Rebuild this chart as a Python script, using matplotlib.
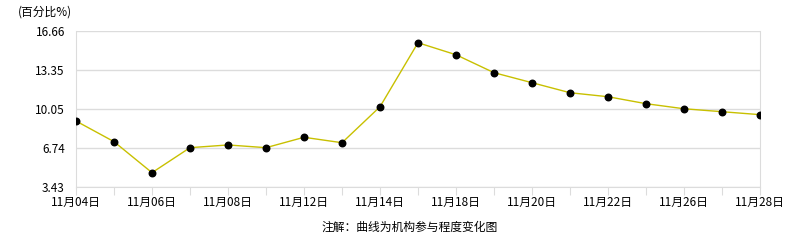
import matplotlib
matplotlib.use('Agg')
import matplotlib.pyplot as plt

plt.rcParams['font.family'] = ['Noto Sans CJK SC', 'DejaVu Sans']

dates = ['11月04日', '11月05日', '11月06日', '11月07日', '11月08日', '11月11日',
         '11月12日', '11月13日', '11月14日', '11月15日', '11月18日', '11月19日',
         '11月20日', '11月21日', '11月22日', '11月25日', '11月26日', '11月27日',
         '11月28日']
values = [9.00, 7.25, 4.62, 6.74, 6.97, 6.74, 7.62, 7.16, 10.21, 15.64,
          14.62, 13.10, 12.25, 11.40, 11.06, 10.47, 10.04, 9.79, 9.54]
yticks = [3.43, 6.74, 10.05, 13.35, 16.66]

fig = plt.figure(figsize=(7.86, 2.4), dpi=100)
ax = fig.add_axes([76 / 786, 1 - 186.7 / 240, (760 - 76) / 786, (186.7 - 30.7) / 240])

x = list(range(len(values)))
ax.plot(x, values, color='#c8c000', lw=1, zorder=3)
ax.plot(x, values, 'o', color='black', ms=4.7, zorder=4)

ax.set_xlim(0, len(values) - 1)
ax.set_ylim(yticks[0], yticks[-1])
ax.set_yticks(yticks)
ax.set_yticklabels(['%.2f' % v for v in yticks], fontsize=8.5)
ax.set_xticks(x)
ax.set_xticklabels([d if i % 2 == 0 else '' for i, d in enumerate(dates)], fontsize=8.5)
ax.tick_params(axis='y', length=0, pad=8)
ax.tick_params(axis='x', length=6, color='#dcdcdc', pad=1)
ax.grid(axis='y', color='#dcdcdc', lw=1)
for s in ['left', 'right', 'bottom']:
    ax.spines[s].set_color('#dcdcdc')
ax.spines['top'].set_visible(False)

fig.text(18 / 786, 1 - 12 / 240, '(百分比%)', fontsize=8.5, va='center', ha='left')
fig.text(410 / 786, 1 - 227 / 240, '注解：曲线为机构参与程度变化图', fontsize=8.5,
         va='center', ha='center')

fig.savefig('out.png', dpi=100)
